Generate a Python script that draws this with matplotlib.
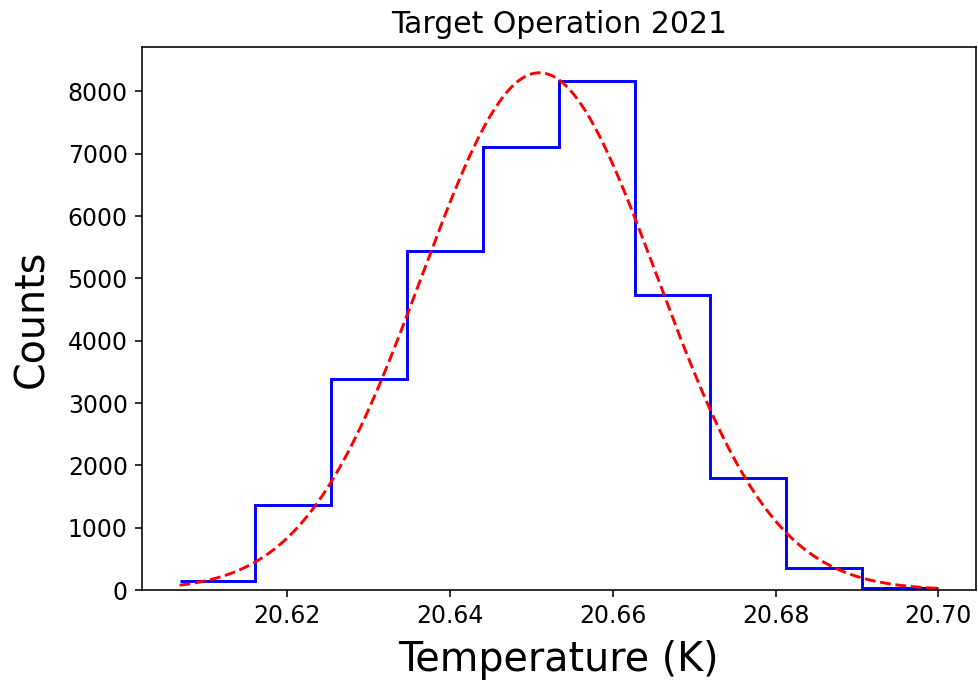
import numpy as np
import matplotlib
matplotlib.use("Agg")
import matplotlib.pyplot as plt

# histogram of target temperature
bin_edges = np.linspace(20.60681, 20.69994, 11)
counts = [145, 1365, 3385, 5435, 7110, 8160, 4735, 1790, 359, 32]

# gaussian fit parameters
fit_amp = 8300
fit_mu = 20.6510
fit_sigma = 0.01445

plt.rcParams['axes.linewidth'] = 1.15
plt.rcParams['xtick.major.width'] = 1.15
plt.rcParams['ytick.major.width'] = 1.15
plt.rcParams['xtick.major.size'] = 5
plt.rcParams['ytick.major.size'] = 5
plt.rcParams['xtick.major.pad'] = 5
plt.rcParams['ytick.major.pad'] = 5

fig = plt.figure(figsize=(9.79, 6.81), dpi=100)
ax = fig.add_axes([0.1447, 0.1336, 0.852, 0.7974])

ax.stairs(counts, bin_edges, baseline=None, color='blue', linewidth=2.1)

xfit = np.linspace(bin_edges[0], bin_edges[-1], 300)
yfit = fit_amp * np.exp(-(xfit - fit_mu) ** 2 / (2 * fit_sigma ** 2))
ax.plot(xfit, yfit, 'r--', linewidth=2.1)

ax.set_ylim(bottom=0)
ax.set_xticks([20.62, 20.64, 20.66, 20.68, 20.70])
ax.tick_params(labelsize=17)
ax.set_title("Target Operation 2021", fontsize=21.5, pad=10)
ax.set_xlabel("Temperature (K)", fontsize=28.5, labelpad=9)
ax.set_ylabel("Counts", fontsize=28.5, labelpad=11)

fig.savefig("out.png", dpi=100)
